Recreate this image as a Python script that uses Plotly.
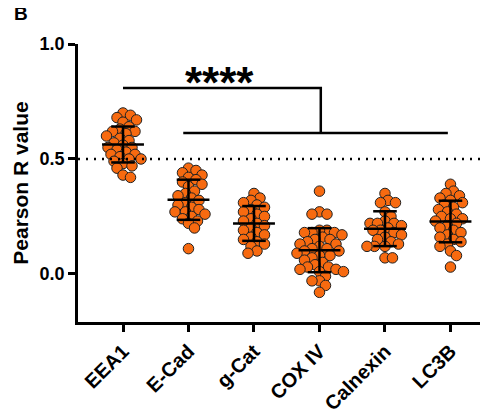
import numpy as np
import plotly.graph_objects as go

categories = ["EEA1", "E-Cad", "g-Cat", "COX IV", "Calnexin", "LC3B"]

eea1 = [0.70, 0.69, 0.68, 0.67, 0.66, 0.64, 0.63, 0.62, 0.62, 0.61, 0.60, 0.59, 0.58, 0.57,
        0.56, 0.55, 0.55, 0.54, 0.53, 0.52, 0.52, 0.51, 0.50, 0.50, 0.49, 0.48, 0.47, 0.46,
        0.43, 0.42]
ecad = [0.46, 0.45, 0.44, 0.43, 0.42, 0.41, 0.40, 0.39, 0.38, 0.36, 0.35, 0.34, 0.33, 0.32,
        0.31, 0.30, 0.29, 0.28, 0.27, 0.27, 0.26, 0.25, 0.24, 0.23, 0.22, 0.20, 0.11]
gcat = [0.35, 0.33, 0.32, 0.31, 0.30, 0.29, 0.28, 0.27, 0.26, 0.25, 0.24, 0.23, 0.22, 0.21,
        0.20, 0.19, 0.18, 0.17, 0.16, 0.15, 0.14, 0.13, 0.12, 0.10, 0.09]
cox4 = [0.36, 0.27, 0.26, 0.26, 0.19, 0.19, 0.18, 0.18, 0.18, 0.17, 0.16, 0.15, 0.15, 0.14,
        0.13, 0.13, 0.12, 0.11, 0.11, 0.10, 0.10, 0.09, 0.08, 0.08, 0.07, 0.06, 0.05, 0.04,
        0.03, 0.03, 0.02, 0.02, 0.01, 0.01, -0.01, -0.03, -0.03, -0.05, -0.08]
calnexin = [0.35, 0.32, 0.31, 0.31, 0.27, 0.25, 0.23, 0.22, 0.22, 0.22, 0.21, 0.20, 0.19,
            0.19, 0.18, 0.17, 0.16, 0.15, 0.14, 0.13, 0.12, 0.12, 0.12, 0.07, 0.07]
lc3b = [0.39, 0.36, 0.35, 0.34, 0.33, 0.32, 0.31, 0.30, 0.29, 0.28, 0.27, 0.26, 0.25, 0.24,
        0.24, 0.23, 0.22, 0.21, 0.20, 0.19, 0.18, 0.17, 0.16, 0.15, 0.14, 0.13, 0.12, 0.10,
        0.08, 0.03]
series = [eea1, ecad, gcat, cox4, calnexin, lc3b]

ytick_vals = [0.0, 0.5, 1.0]
ytick_text = ["0.0", "0.5", "1.0"]
threshold = 0.5
sig_label = "****"

# axis ranges and pixel scales (used for swarm layout)
XR = [-0.687, 5.573]
YR = [-0.209, 1.0]
PX_X = 410 / (XR[1] - XR[0])
PX_Y = 278 / (YR[1] - YR[0])
DIAM = 7.5  # px spacing for swarm


def swarm(vals):
    order = np.argsort(vals)[::-1]
    placed = []
    offs = np.zeros(len(vals))
    for i in order:
        y = vals[i] * PX_Y
        cands = [0.0]
        for k in range(1, 40):
            cands += [k * 1.5, -k * 1.5]
        for c in cands:
            ok = True
            for (px, py) in placed:
                if (px - c) ** 2 + (py - y) ** 2 < DIAM ** 2:
                    ok = False
                    break
            if ok:
                offs[i] = c
                placed.append((c, y))
                break
    return offs / PX_X


fig = go.Figure()
font = "Arial, Liberation Sans, sans-serif"

for i, vals in enumerate(series):
    v = np.array(vals)
    xs = i + swarm(v)
    fig.add_trace(go.Scatter(
        x=xs, y=v, mode="markers",
        marker=dict(size=10.5, color="#F76A10", line=dict(color="#222222", width=1)),
        showlegend=False, hoverinfo="skip"))

for i, vals in enumerate(series):
    v = np.array(vals)
    m = v.mean()
    sd = v.std(ddof=1)
    lx = [i - 0.32, i + 0.32, None, i - 0.18, i + 0.18, None, i - 0.18, i + 0.18, None, i, i]
    ly = [m, m, None, m + sd, m + sd, None, m - sd, m - sd, None, m - sd, m + sd]
    fig.add_trace(go.Scatter(x=lx, y=ly, mode="lines",
                             line=dict(color="black", width=2.5),
                             showlegend=False, hoverinfo="skip"))

# threshold dotted line
fig.add_trace(go.Scatter(x=[XR[0], XR[1]], y=[threshold, threshold], mode="lines",
                         line=dict(color="black", width=2.5, dash="2px,6px"),
                         showlegend=False, hoverinfo="skip"))

# significance bracket
fig.add_trace(go.Scatter(x=[0, 3.02, 3.02, None, 0.92, 4.96],
                         y=[0.809, 0.809, 0.613, None, 0.613, 0.613],
                         mode="lines", line=dict(color="black", width=2.5),
                         showlegend=False, hoverinfo="skip"))

fig.add_annotation(x=1.48, y=0.809, yshift=-21, text="<b>" + sig_label + "</b>",
                   showarrow=False, yanchor="bottom",
                   font=dict(family=font, size=44, color="black"))
fig.add_annotation(xref="paper", yref="paper", x=-0.161, y=1.108,
                   xanchor="left", yanchor="middle", text="<b>B</b>", showarrow=False,
                   font=dict(family=font, size=19, color="black"))

fig.update_layout(
    width=488, height=410,
    margin=dict(l=70, r=8, t=36, b=96),
    plot_bgcolor="white", paper_bgcolor="white",
    font=dict(family=font, color="black"),
    xaxis=dict(range=XR, tickvals=list(range(len(categories))),
               ticktext=["<b>" + c + "</b>" for c in categories],
               tickangle=-45, tickfont=dict(size=20, family=font),
               showline=True, linecolor="black", linewidth=2.5,
               ticks="outside", ticklen=7, tickwidth=2.5, tickcolor="black",
               showgrid=False, zeroline=False, automargin=False),
    yaxis=dict(range=YR, tickvals=ytick_vals,
               ticktext=["<b>" + t + "</b>" for t in ytick_text],
               tickfont=dict(size=18, family=font),
               title=dict(text="<b>Pearson R value</b>", font=dict(size=21, family=font),
                          standoff=6),
               showline=True, linecolor="black", linewidth=2.5,
               ticks="outside", ticklen=7, tickwidth=2.5, tickcolor="black",
               showgrid=False, zeroline=False, automargin=False),
)

fig.write_html("out.html")
